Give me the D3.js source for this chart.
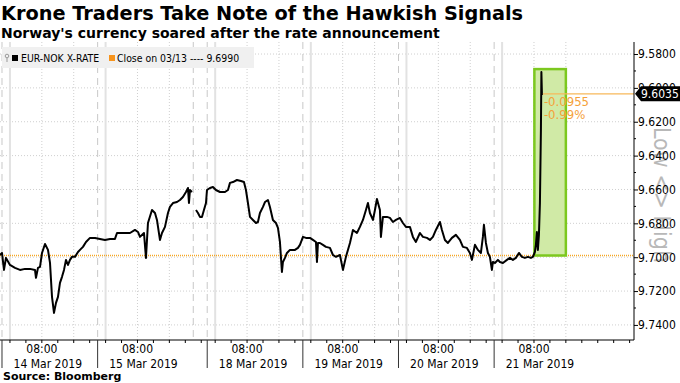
<!DOCTYPE html>
<html>
<head>
<meta charset="utf-8">
<script src="https://cdnjs.cloudflare.com/ajax/libs/d3/7.8.5/d3.min.js"></script>
<style>
body { margin: 0; background: #fff; }
text { font-family: "DejaVu Sans Condensed", "DejaVu Sans", sans-serif; }
.head { font-family: "DejaVu Sans", sans-serif; font-weight: bold; }
</style>
</head>
<body>
<div id="chart"></div>
<script>
// trading sessions, hours counted from 22:00 on 13 Mar, weekend collapsed
var sessionDays = ["14 Mar 2019", "15 Mar 2019", "18 Mar 2019", "19 Mar 2019", "20 Mar 2019", "21 Mar 2019"];
var sessionStart = [0, 24, 51.5, 75.5, 99.5, 123.5];
var fridayClose = 48;
var hourEnd = 158.6;

var yTicks = [9.58, 9.60, 9.62, 9.64, 9.66, 9.68, 9.70, 9.72, 9.74];

// EUR-NOK (null = weekend break)
var tHours = [-0.5, 0, 0.5, 1, 2, 3.26, 4.52, 5.77, 7.03, 8.28, 8.53, 9.03, 9.54, 10.04, 10.79, 11.54, 12.05, 12.55, 13.05, 13.55,
  14.05, 14.55, 15.06, 15.56, 16.06, 16.56, 17.06, 17.56, 18.32, 19.07, 19.57, 20.32, 21.08, 22.08, 23.34, 24.59, 25.84, 27.10, 28.35, 28.86,
  29.61, 30.86, 32.12, 33.37, 34.12, 34.63, 35.63, 36.13, 36.63, 37.64, 38.39, 38.89, 39.64, 40.15, 40.90, 41.65, 42.15, 42.91, 43.91, 44.66,
  45.41, 46.17, 46.67, 46.92, 47.17, 47.67, 48.2, 48.68, 49.18, 49.68, 50.18, 50.68, 51.19, 51.44, 52.19, 52.94, 53.69, 54.70, 55.95, 56.71,
  57.21, 57.96, 58.96, 59.97, 60.72, 61.22, 61.72, 62.23, 62.98, 63.73, 64.23, 64.73, 65.49, 65.99, 66.74, 67.24, 67.99, 68.75, 69.25, 69.75,
  70.25, 70.50, 71.01, 71.51, 72.26, 73.52, 74.27, 74.77, 75.53, 76.28, 77.28, 78.03, 78.79, 79.04, 79.29, 79.79, 80.54, 81.29, 82.30, 83.05,
  83.80, 84.81, 85.56, 86.31, 87.32, 88.07, 89.07, 89.82, 90.58, 91.33, 91.83, 92.33, 93.09, 93.59, 94.09, 94.84, 95.09, 95.59, 96.60, 97.35,
  98.10, 98.86, 99.86, 100.61, 101.37, 102.37, 103.12, 103.87, 104.88, 105.63, 106.63, 107.39, 108.14, 108.89, 109.90, 110.40, 111.15, 111.90, 112.91, 113.91,
  114.91, 115.67, 116.67, 117.42, 117.93, 118.68, 119.43, 120.18, 120.68, 120.94, 121.44, 121.94, 122.44, 122.94, 123.19, 123.70, 124.45, 124.95, 125.70, 126.71,
  127.46, 128.21, 128.96, 129.72, 130.47, 131.22, 131.98, 132.73, 133.23, 133.73, 133.98, 134.23, 134.48, 134.74, 134.99, 135.24, 135.36, 135.49, 135.74];
var rate = [9.6987, 9.6975, 9.7075, 9.7004, 9.7046, 9.7063, 9.7075, 9.7069, 9.7069, 9.7075, 9.7122, 9.7063, 9.7057, 9.6975, 9.6922, 9.6957, 9.7034, 9.7234, 9.7329, 9.7270,
  9.7234, 9.7152, 9.7116, 9.7075, 9.7016, 9.7046, 9.7016, 9.6998, 9.6998, 9.6969, 9.6957, 9.6939, 9.6910, 9.6886, 9.6886, 9.6892, 9.6898, 9.6892, 9.6892, 9.6857,
  9.6857, 9.6857, 9.6857, 9.6839, 9.6851, 9.6880, 9.6857, 9.7004, 9.6798, 9.6721, 9.6739, 9.6780, 9.6898, 9.6857, 9.6821, 9.6739, 9.6703, 9.6680, 9.6674, 9.6662,
  9.6644, 9.6615, 9.6591, 9.6680, 9.6603, 9.6615, null, 9.6721, 9.6739, 9.6762, 9.6762, 9.6721, 9.6680, 9.6603, 9.6591, 9.6585, 9.6603, 9.6615, 9.6615, 9.6603,
  9.6561, 9.6556, 9.6544, 9.6550, 9.6556, 9.6603, 9.6680, 9.6762, 9.6780, 9.6798, 9.6792, 9.6739, 9.6703, 9.6674, 9.6662, 9.6703, 9.6780, 9.6798, 9.6827, 9.6910,
  9.7087, 9.7028, 9.7004, 9.6975, 9.6957, 9.6957, 9.6945, 9.6927, 9.6880, 9.6886, 9.6886, 9.6898, 9.6910, 9.7028, 9.6916, 9.6916, 9.6927, 9.6939, 9.6945, 9.6987,
  9.6998, 9.6987, 9.7075, 9.6998, 9.6916, 9.6839, 9.6857, 9.6821, 9.6780, 9.6721, 9.6680, 9.6739, 9.6780, 9.6721, 9.6656, 9.6721, 9.6880, 9.6762, 9.6762, 9.6768,
  9.6792, 9.6780, 9.6768, 9.6798, 9.6821, 9.6821, 9.6880, 9.6910, 9.6857, 9.6880, 9.6886, 9.6898, 9.6880, 9.6839, 9.6792, 9.6839, 9.6898, 9.6916, 9.6886, 9.6868,
  9.6898, 9.6939, 9.6945, 9.6975, 9.7016, 9.6927, 9.6957, 9.6975, 9.6880, 9.6809, 9.6916, 9.6975, 9.6998, 9.7075, 9.7028, 9.7034, 9.7016, 9.7028, 9.7034, 9.7016,
  9.7004, 9.7016, 9.7004, 9.6975, 9.6998, 9.7004, 9.6998, 9.7004, 9.6998, 9.6969, 9.6927, 9.6851, 9.6957, 9.6868, 9.6680, 9.6249, 9.5906, 9.6036, 9.6035];

var closePrev = 9.6990;
var lastPrice = 9.6035;
var changeAbs = "-0.0955";
var changePct = "-0.99%";
// highlighted move after the announcement
var boxHours = [133.6, 141.5];
var boxRange = [9.6990, 9.5889];

var W = 680, H = 383;
var pLeft = 0, pRight = 634, pTop = 42, pBottom = 340;

var svg = d3.select("#chart").append("svg")
  .attr("width", W)
  .attr("height", H);

var x = d3.scaleLinear().domain([-0.5, hourEnd]).range([pLeft, pRight]);
var y = d3.scaleLinear().domain([9.5729, 9.7489]).range([pTop, pBottom]);

// titles
svg.append("text").attr("class", "head").attr("x", 1).attr("y", 20)
  .style("font-size", "19.3px")
  .text("Krone Traders Take Note of the Hawkish Signals");
svg.append("text").attr("class", "head").attr("x", 1).attr("y", 38)
  .style("font-size", "14px")
  .text("Norway's currency soared after the rate announcement");

// horizontal grid
svg.append("g").selectAll("line")
  .data(yTicks).enter().append("line")
  .attr("x1", pLeft).attr("x2", pRight)
  .attr("y1", d => y(d)).attr("y2", d => y(d))
  .attr("stroke", "#cfcfcf").attr("stroke-dasharray", "1,2");

// vertical grid
var dotted = [], solid = [];
sessionStart.forEach(function(s, i) {
  solid.push(s + 2);
  dotted.push(s + 10, s + 18);
});
var dashed = sessionStart.concat([fridayClose]);

svg.append("g").selectAll("line").data(dotted).enter().append("line")
  .attr("x1", d => x(d)).attr("x2", d => x(d)).attr("y1", pTop).attr("y2", pBottom)
  .attr("stroke", "#cfcfcf").attr("stroke-dasharray", "1,2");
svg.append("g").selectAll("line").data(solid).enter().append("line")
  .attr("x1", d => x(d)).attr("x2", d => x(d)).attr("y1", pTop).attr("y2", pBottom)
  .attr("stroke", "#e2e2e2").attr("stroke-width", 2);
svg.append("g").selectAll("line").data(dashed).enter().append("line")
  .attr("x1", d => x(d)).attr("x2", d => x(d)).attr("y1", pTop).attr("y2", pBottom)
  .attr("stroke", "#c8c8c8").attr("stroke-dasharray", "7,5");

// close on 03/13
svg.append("line")
  .attr("x1", pLeft).attr("x2", pRight)
  .attr("y1", y(closePrev)).attr("y2", y(closePrev))
  .attr("stroke", "#f5a623").attr("stroke-width", 1.3).attr("stroke-dasharray", "1,1");

// highlight box
svg.append("rect")
  .attr("x", x(boxHours[0])).attr("y", y(boxRange[1]))
  .attr("width", x(boxHours[1]) - x(boxHours[0]))
  .attr("height", y(boxRange[0]) - y(boxRange[1]))
  .attr("fill", "#d0eaa6").attr("stroke", "#7cc81f").attr("stroke-width", 2.5);

// the series
var pts = tHours.map((h, i) => ({h: h, v: rate[i]}));
var line = d3.line()
  .defined(d => d.v != null)
  .x(d => x(d.h))
  .y(d => y(d.v));
svg.append("path")
  .datum(pts)
  .attr("d", line)
  .attr("fill", "none")
  .attr("stroke", "#000")
  .attr("stroke-width", 2)
  .attr("stroke-linejoin", "round");

// last price line + change
var lastH = tHours[tHours.length - 1];
svg.append("line")
  .attr("x1", x(lastH)).attr("x2", pRight)
  .attr("y1", y(lastPrice)).attr("y2", y(lastPrice))
  .attr("stroke", "#f7b85a").attr("stroke-width", 1.2);
svg.append("text").attr("x", x(lastH) + 1).attr("y", y(lastPrice) + 12)
  .style("font-size", "13px").attr("fill", "#f5a13a").text(changeAbs);
svg.append("text").attr("x", x(lastH) + 1).attr("y", y(lastPrice) + 25)
  .style("font-size", "13px").attr("fill", "#f5a13a").text(changePct);

// Low <> High marker on the right, behind the axis labels
svg.append("clipPath").attr("id", "lhclip").append("rect")
  .attr("x", 636).attr("y", 120).attr("width", 44).attr("height", 146);
svg.append("g")
  .attr("clip-path", "url(#lhclip)")
  .append("text")
  .attr("transform", "translate(654,127) rotate(90)")
  .style("font-size", "23px").attr("fill", "#b8b8b8")
  .text("Low <> High");

// y axis
var yAxis = d3.axisRight(y).tickValues(yTicks).tickSize(4).tickFormat(d3.format(".4f"));
var gy = svg.append("g").attr("transform", "translate(" + pRight + ",0)").call(yAxis);
gy.select(".domain").attr("d", "M0," + pTop + "V" + pBottom).attr("stroke", "#000");
gy.selectAll(".tick text").attr("x", 4).style("font-size", "12px").attr("font-family", null).attr("fill", "#000");
gy.selectAll(".tick line").attr("stroke", "#000");
var minorY = yTicks.slice(0, -1).map(d => d + 0.01);
gy.selectAll(".minor").data(minorY).enter().append("line")
  .attr("x1", 0).attr("x2", 2)
  .attr("y1", d => y(d)).attr("y2", d => y(d))
  .attr("stroke", "#000");

// last price tag
var ty = y(lastPrice);
svg.append("path")
  .attr("d", "M" + (pRight + 1) + "," + ty + "L" + (pRight + 7) + "," + (ty - 7.5) + "H" + W + "V" + (ty + 7.5) + "H" + (pRight + 7) + "Z")
  .attr("fill", "#000");
svg.append("text").attr("x", pRight + 7).attr("y", ty).attr("dy", "0.36em")
  .style("font-size", "12px").attr("fill", "#fff").text(d3.format(".4f")(lastPrice));

// x axis
svg.append("line").attr("x1", pLeft).attr("x2", pRight).attr("y1", pBottom).attr("y2", pBottom)
  .attr("stroke", "#000");
var minorX = [];
sessionStart.forEach(function(s, i) {
  var end = i < sessionStart.length - 1 ? sessionStart[i + 1] : hourEnd;
  for (var h = s + 2; h < end; h += 4) minorX.push(h);
});
svg.append("g").selectAll("line").data(minorX).enter().append("line")
  .attr("x1", d => x(d)).attr("x2", d => x(d)).attr("y1", pBottom).attr("y2", pBottom + 3)
  .attr("stroke", "#000");
svg.append("g").selectAll("line").data(sessionStart).enter().append("line")
  .attr("x1", d => x(d)).attr("x2", d => x(d)).attr("y1", pBottom).attr("y2", pBottom + 28)
  .attr("stroke", "#333");
var lab = svg.append("g").selectAll("g").data(sessionDays).enter().append("g");
lab.append("text")
  .attr("x", (d, i) => x(sessionStart[i] + 10))
  .attr("y", pBottom + 13)
  .attr("text-anchor", "middle").style("font-size", "12px")
  .text("08:00");
lab.append("text")
  .attr("x", (d, i) => x(sessionStart[i] + 10) + 6)
  .attr("y", pBottom + 28)
  .attr("text-anchor", "middle").style("font-size", "12px")
  .text(d => d);

// legend
svg.append("rect").attr("x", 2).attr("y", 47).attr("width", 252).attr("height", 21).attr("fill", "#f0f0f0");
svg.append("circle").attr("cx", 7).attr("cy", 56).attr("r", 1.8).attr("fill", "none").attr("stroke", "#999");
svg.append("line").attr("x1", 7).attr("x2", 7).attr("y1", 58).attr("y2", 62).attr("stroke", "#999");
svg.append("rect").attr("x", 12).attr("y", 55).attr("width", 6).attr("height", 6).attr("fill", "#000");
svg.append("text").attr("x", 21).attr("y", 61.5).style("font-size", "10.4px").text("EUR-NOK X-RATE");
svg.append("rect").attr("x", 109).attr("y", 55).attr("width", 6).attr("height", 6).attr("fill", "#f7941d");
svg.append("text").attr("x", 117).attr("y", 61.5).style("font-size", "10.4px").text("Close on 03/13 ---- " + d3.format(".4f")(closePrev));

// source
svg.append("text").attr("class", "head").attr("x", 3).attr("y", 380)
  .style("font-size", "11px")
  .text("Source: Bloomberg");
</script>
</body>
</html>
